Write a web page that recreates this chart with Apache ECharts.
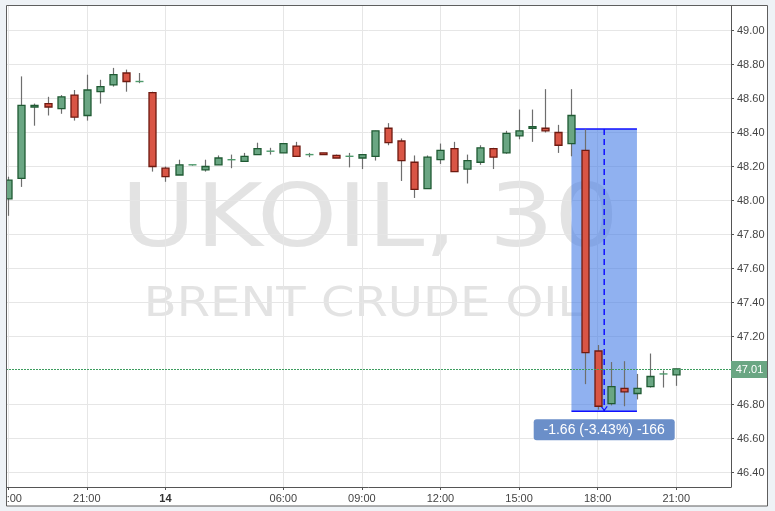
<!DOCTYPE html>
<html><head><meta charset="utf-8">
<script src="https://cdn.jsdelivr.net/npm/echarts@6/dist/echarts.min.js"></script>
<style>html,body{margin:0;padding:0;background:#eef2f6;}#c{width:775px;height:511px;}</style>
</head><body><div id="c"></div>
<script>
// ---- data (30-minute candles, index 0 = 18:00 on the 13th) ----
const opens  = [48.01,48.13,48.55,48.57,48.54,48.62,48.50,48.64,48.68,48.75,48.70,48.635,48.19,48.15,48.21,48.18,48.21,48.24,48.23,48.27,48.29,48.28,48.32,48.27,48.28,48.265,48.26,48.25,48.26,48.425,48.35,48.225,48.07,48.24,48.305,48.185,48.225,48.305,48.28,48.38,48.425,48.425,48.40,48.335,48.295,47.115,46.805,46.895,46.865,46.905,46.98,46.975];
const highs  = [48.14,48.73,48.57,48.61,48.62,48.65,48.74,48.71,48.78,48.77,48.75,48.64,48.20,48.24,48.21,48.24,48.265,48.27,48.28,48.34,48.31,48.335,48.345,48.28,48.28,48.27,48.28,48.27,48.41,48.455,48.365,48.265,48.265,48.335,48.345,48.27,48.325,48.31,48.41,48.535,48.535,48.655,48.445,48.655,48.42,47.15,47.05,47.055,46.98,47.10,47.00,47.01];
const lows   = [47.91,48.08,48.44,48.50,48.51,48.47,48.47,48.57,48.67,48.64,48.69,48.17,48.11,48.15,48.205,48.17,48.21,48.19,48.23,48.27,48.27,48.28,48.26,48.255,48.27,48.25,48.195,48.185,48.235,48.325,48.115,48.015,48.07,48.215,48.17,48.10,48.21,48.185,48.275,48.36,48.345,48.40,48.28,48.26,46.92,46.77,46.795,46.79,46.83,46.90,46.90,46.91];
const closes = [48.12,48.56,48.56,48.55,48.61,48.49,48.65,48.67,48.74,48.70,48.70,48.20,48.14,48.21,48.21,48.20,48.25,48.24,48.26,48.305,48.29,48.335,48.26,48.27,48.27,48.25,48.26,48.27,48.41,48.34,48.235,48.065,48.255,48.295,48.17,48.235,48.31,48.255,48.395,48.41,48.435,48.41,48.325,48.50,47.105,46.79,46.905,46.875,46.895,46.965,46.98,47.01];
const tickIndex  = [0,6,12,21,27,33,39,45,51];
const tickLabels = ['18:00','21:00','14','06:00','09:00','12:00','15:00','18:00','21:00'];
const priceTicks = [46.4,46.6,46.8,47.2,47.4,47.6,47.8,48.0,48.2,48.4,48.6,48.8,49.0];
const lastPrice = 47.01;
const measureX = [43, 48];
const measureY = [48.42, 46.76];
const symbolTitle = 'UKOIL, 30';
const symbolName = 'BRENT CRUDE OIL';

const FONT = '"Liberation Sans", Arial, sans-serif';
const BG = '#eef2f6';
const PRICE_GREEN = '#3d9d5f';
const chart = echarts.init(document.getElementById('c'));
const candleData = opens.map((o, i) => [i, o, closes[i], lows[i], highs[i]]);
const measureData = [[measureX[0], measureX[1], measureY[0], measureY[1]]];
const diff = measureY[1] - measureY[0];
const measureText = diff.toFixed(2) + ' (' + (diff / measureY[0] * 100).toFixed(2) + '%) ' + Math.round(diff * 100);

function renderCandle(params, api) {
  const i = api.value(0), o = api.value(1), c = api.value(2), l = api.value(3), h = api.value(4);
  const po = api.coord([i, o]), pc = api.coord([i, c]), pl = api.coord([i, l]), ph = api.coord([i, h]);
  const x = Math.round(po[0]) + 0.5;
  const up = c >= o;
  const w = 7;
  const top = Math.min(po[1], pc[1]), bot = Math.max(po[1], pc[1]);
  const children = [{type: 'line', shape: {x1: x, y1: ph[1], x2: x, y2: pl[1]}, style: {stroke: '#6e6e6e', lineWidth: 1.2}}];
  if (bot - top < 0.8) {
    children.push({type: 'line', shape: {x1: x - 4, y1: top, x2: x + 4, y2: top}, style: {stroke: '#4f9a6c', lineWidth: 1.4}});
  } else {
    children.push({type: 'rect', shape: {x: x - w / 2, y: top, width: w, height: bot - top},
      style: {fill: up ? '#6aa683' : '#d95545', stroke: up ? '#1f5a33' : '#6e1a10', lineWidth: 1.3}});
  }
  return {type: 'group', children};
}

function renderMeasure(params, api) {
  const p1 = api.coord([api.value(0), api.value(2)]);
  const p2 = api.coord([api.value(1), api.value(3)]);
  const x1 = p1[0], x2 = p2[0], y1 = p1[1], y2 = p2[1];
  const mx = (x1 + x2) / 2;
  return {type: 'group', children: [
    {type: 'rect', shape: {x: x1, y: y1, width: x2 - x1, height: y2 - y1}, style: {fill: 'rgba(70,125,230,0.6)'}},
    {type: 'line', shape: {x1: x1, y1: y1, x2: x2, y2: y1}, style: {stroke: '#1010ff', lineWidth: 1.5}},
    {type: 'line', shape: {x1: x1, y1: y2, x2: x2, y2: y2}, style: {stroke: '#1010ff', lineWidth: 1.5}},
    {type: 'line', shape: {x1: mx, y1: y1, x2: mx, y2: y2}, style: {stroke: '#1010ff', lineWidth: 1.5, lineDash: [6, 4]}},
    {type: 'polyline', shape: {points: [[mx - 3, y2 - 5], [mx, y2 - 1], [mx + 3, y2 - 5]]}, style: {stroke: '#1010ff', lineWidth: 1.2, fill: null}},
    {type: 'rect', shape: {x: mx - 70.5, y: y2 + 8, width: 141, height: 21, r: 3}, style: {fill: '#6b8fc9'}},
    {type: 'text', x: mx, y: y2 + 18.5, style: {text: measureText, fill: '#fff', font: '14px ' + FONT, align: 'center', verticalAlign: 'middle'}}
  ]};
}

function renderPriceLine(params, api) {
  const cs = params.coordSys;
  const y = Math.round(api.coord([0, api.value(0)])[1]) + 0.5;
  const right = cs.x + cs.width;
  return {type: 'group', children: [
    {type: 'line', shape: {x1: cs.x, y1: y, x2: right, y2: y}, style: {stroke: PRICE_GREEN, lineWidth: 1, lineDash: [2, 1]}},
    {type: 'rect', shape: {x: right, y: y - 8.5, width: 37, height: 17}, style: {fill: '#6aa683'}},
    {type: 'text', x: right + 18.5, y: y, style: {text: api.value(0).toFixed(2), fill: '#fff', font: '11px ' + FONT, align: 'center', verticalAlign: 'middle'}}
  ]};
}

const option = {
  animation: false,
  backgroundColor: 'transparent',
  grid: {left: 6, right: 44, top: 6, bottom: 24, outerBoundsMode: 'none', containLabel: false},
  xAxis: {
    type: 'value', min: -0.17, max: 55.18, scale: true,
    axisLine: {show: true, onZero: false, lineStyle: {color: '#555', width: 1}},
    axisTick: {show: true, length: 3, customValues: tickIndex, lineStyle: {color: '#555'}},
    axisLabel: {
      customValues: tickIndex, margin: 6, fontSize: 11, color: '#444', fontFamily: FONT,
      formatter: v => { const t = tickLabels[tickIndex.indexOf(Math.round(v))]; return t === '14' ? '{b|14}' : t; },
      rich: {b: {fontWeight: 'bold', fontSize: 11, color: '#333', fontFamily: FONT}}
    },
    splitLine: {show: true, lineStyle: {color: '#e6e6e6', width: 1}}
  },
  yAxis: {
    type: 'value', position: 'right', min: 46.315, max: 49.144, scale: true,
    axisLine: {show: true, onZero: false, lineStyle: {color: '#555', width: 1}},
    axisTick: {show: true, length: 3, customValues: priceTicks, lineStyle: {color: '#555'}},
    axisLabel: {customValues: priceTicks, margin: 6, fontSize: 11, color: '#444', fontFamily: FONT, formatter: v => v.toFixed(2)},
    splitLine: {show: true, lineStyle: {color: '#e6e6e6', width: 1}}
  },
  graphic: [
    {type: 'rect', z: -10, shape: {x: 6, y: 6, width: 761, height: 500}, style: {fill: '#ffffff'}},
    {type: 'text', z: -5, x: 370, y: 223, scaleY: 0.85, style: {text: symbolTitle, fontFamily: 'DejaVu Sans', fontSize: 102, fill: '#e3e3e3', align: 'center', verticalAlign: 'middle'}},
    {type: 'text', z: -5, x: 364, y: 305.5, scaleY: 0.84, style: {text: symbolName, fontFamily: 'DejaVu Sans', fontSize: 48, fill: '#e3e3e3', align: 'center', verticalAlign: 'middle'}},
    {type: 'rect', z: 100, shape: {x: 0, y: 0, width: 6, height: 511}, style: {fill: BG}},
    {type: 'rect', z: 101, shape: {x: 6.5, y: 5.5, width: 761, height: 500.5}, style: {fill: null, stroke: '#5e5e5e', lineWidth: 1}}
  ],
  series: [
    {type: 'custom', z: 1, data: measureData, encode: {x: [0, 1], y: [2, 3]}, renderItem: renderMeasure, silent: true},
    {type: 'custom', z: 3, clip: true, data: candleData, encode: {x: 0, y: [1, 2, 3, 4]}, renderItem: renderCandle, silent: true},
    {type: 'custom', z: 4, clip: false, data: [[lastPrice]], encode: {y: 0}, renderItem: renderPriceLine, silent: true}
  ]
};
chart.setOption(option);
</script></body></html>
